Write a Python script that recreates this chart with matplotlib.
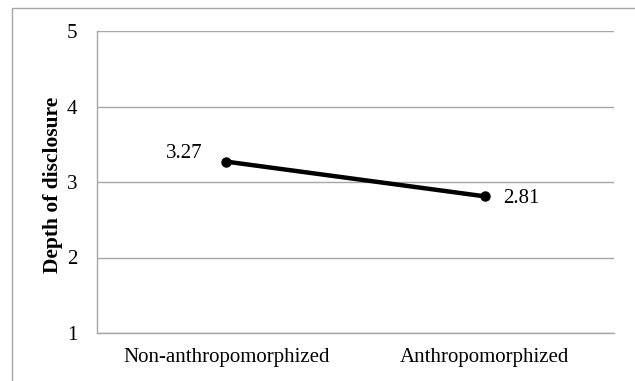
import matplotlib.pyplot as plt
from matplotlib.patches import Rectangle

categories = ["Non-anthropomorphized", "Anthropomorphized"]
depth = [3.27, 2.81]
yticks = [1, 2, 3, 4, 5]

plt.rcParams['font.family'] = ['Liberation Serif', 'DejaVu Serif']

fig = plt.figure(figsize=(6.35, 3.81), dpi=100)
ax = fig.add_axes([97/635, 1 - 333/381, (614 - 97)/635, (333 - 31)/381])

grey = '#a6a6a6'
x = list(range(len(categories)))
ax.plot(x, depth, color='black', linewidth=3.2, marker='o', markersize=6.5,
        solid_capstyle='round', zorder=3)

# value labels
ax.annotate("%.2f" % depth[0], (x[0], depth[0]), xytext=(-17, 6),
            textcoords='offset points', ha='right', va='center', fontsize=15)
ax.annotate("%.2f" % depth[1], (x[1], depth[1]), xytext=(13, -1.5),
            textcoords='offset points', ha='left', va='center', fontsize=15)

ax.set_xlim(-0.5, 1.5)
ax.set_ylim(1, 5)
ax.set_yticks(yticks)
ax.set_xticks(x)
ax.set_xticklabels(categories, fontsize=15)
ax.tick_params(axis='both', length=0, labelsize=15)
ax.tick_params(axis='x', pad=11)
ax.tick_params(axis='y', pad=14)
ax.yaxis.grid(True, color=grey, linewidth=1)
ax.set_axisbelow(True)
for s in ('top', 'right'):
    ax.spines[s].set_visible(False)
for s in ('left', 'bottom'):
    ax.spines[s].set_color(grey)
    ax.spines[s].set_linewidth(1)

ax.set_ylabel("Depth of disclosure", fontsize=15.5, fontweight='bold')
ax.yaxis.set_label_coords(-(97 - 63)/517, 0.49)

# outer chart border
fig.patches.append(Rectangle((12/635, -0.1), 1.1, 1 - 8/381 + 0.1,
                             transform=fig.transFigure, fill=False,
                             edgecolor=grey, linewidth=1))

fig.savefig('out.png', dpi=100)
